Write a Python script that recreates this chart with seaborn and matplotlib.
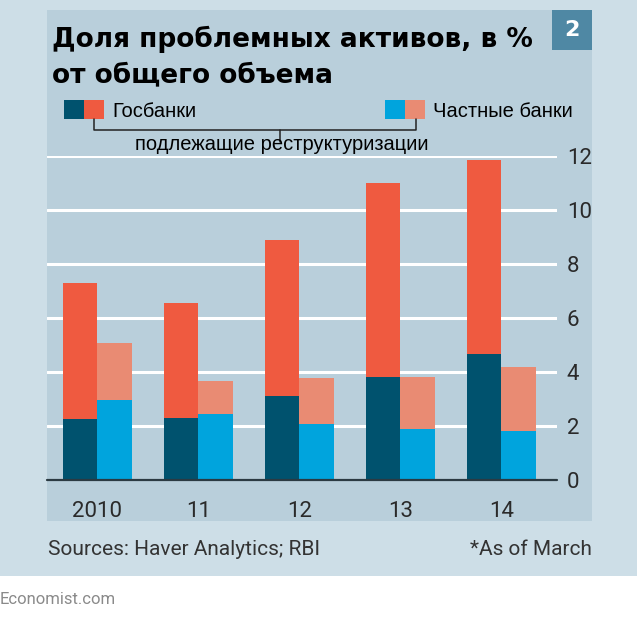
import numpy as np
import pandas as pd
import seaborn as sns
import matplotlib.pyplot as plt
from matplotlib.patches import Rectangle
from matplotlib.lines import Line2D

# data, % of total loans
years = ["2010", "11", "12", "13", "14"]
banks = ["Госбанки", "Частные банки"]
state_bad = [2.25, 2.28, 3.12, 3.80, 4.67]
state_restr = [5.03, 4.26, 5.77, 7.21, 7.18]
private_bad = [2.96, 2.44, 2.07, 1.88, 1.83]
private_restr = [2.13, 1.23, 1.70, 1.95, 2.37]
yticks = [0, 2, 4, 6, 8, 10, 12]

dark, red = "#00526e", "#ef5a40"
blue, salmon = "#00a4dd", "#e98b73"
outer_bg, inner_bg = "#cddee7", "#b9cfdb"

df = pd.DataFrame({
    "year": years * 2,
    "bank": [banks[0]] * 5 + [banks[1]] * 5,
    "bad": state_bad + private_bad,
    "restr": state_restr + private_restr,
})
df["total"] = df["bad"] + df["restr"]

sns.set_style("white")
plt.rcParams["font.family"] = ["Roboto", "DejaVu Sans"]

W, H = 640, 617
fig = plt.figure(figsize=(6.4, 6.17), dpi=100, facecolor="white")


def px(x, y):
    return x / W, 1 - y / H


def box(x0, y0, x1, y1, color, z=-2):
    fig.add_artist(Rectangle(px(x0, y1), (x1 - x0) / W, (y1 - y0) / H,
                             transform=fig.transFigure, color=color, lw=0, zorder=z))


box(0, 0, 637, 576, outer_bg, -3)
box(47, 10, 592, 521, inner_bg, -2)
box(552, 10, 592, 50, "#4f88a4", 2)

ax = fig.add_axes([47 / W, 1 - 480 / H, 510 / W, 324 / H])
ax.patch.set_alpha(0)

sns.barplot(data=df, x="year", y="total", hue="bank", order=years, hue_order=banks,
            palette=[red, salmon], width=0.68, saturation=1, legend=False, ax=ax,
            zorder=2, linewidth=0)
sns.barplot(data=df, x="year", y="bad", hue="bank", order=years, hue_order=banks,
            palette=[dark, blue], width=0.68, saturation=1, legend=False, ax=ax,
            zorder=2, linewidth=0)

ax.set_xlim(-0.5, 4.55)
ax.set_ylim(0, 12)
ax.set_yticks(yticks)
ax.set_xlabel("")
ax.set_ylabel("")
for s in ax.spines.values():
    s.set_visible(False)
ax.yaxis.grid(True, color="white", lw=2.2)
ax.set_axisbelow(True)
ax.axhline(0, color="#2b3a42", lw=1.6, zorder=3, clip_on=False)
ax.yaxis.tick_right()
ax.tick_params(axis="y", length=0, pad=7, labelsize=16, labelcolor="#2a2a2a")
ax.tick_params(axis="x", length=0, pad=15, labelsize=16, labelcolor="#2a2a2a")

# title
title_font = ["DejaVu Sans"]
fig.text(*px(52, 47), "Доля проблемных активов, в %", fontsize=19, fontweight="bold",
         family=title_font, va="baseline", color="black")
fig.text(*px(52, 82), "от общего объема", fontsize=19, fontweight="bold",
         family=title_font, va="baseline", color="black")
fig.text(*px(572, 30), "2", fontsize=16, fontweight="bold", color="white",
         ha="center", va="center", family=["DejaVu Sans"])

# legend
box(64, 100, 84, 119, dark, 2)
box(84, 100, 104, 119, red, 2)
box(385, 100, 405, 119, blue, 2)
box(405, 100, 425, 119, salmon, 2)
leg_font = ["Liberation Sans", "DejaVu Sans"]
fig.text(*px(112, 117), "Госбанки", fontsize=14.5, family=leg_font, va="baseline",
         color="black")
fig.text(*px(433, 117), "Частные банки", fontsize=14.5, family=leg_font, va="baseline",
         color="black")
xs = [94, 94, 416, 416]
ys = [119, 130, 130, 119]
fig.add_artist(Line2D([x / W for x in xs], [1 - y / H for y in ys],
                      transform=fig.transFigure, color="#222", lw=1.1))
fig.add_artist(Line2D([280 / W, 280 / W], [1 - 130 / H, 1 - 142 / H],
                      transform=fig.transFigure, color="#222", lw=1.1))
fig.text(*px(282, 150), "подлежащие реструктуризации", fontsize=14.5, family=leg_font,
         ha="center", va="baseline", color="black")

# footer
fig.text(*px(48, 555), "Sources: Haver Analytics; RBI", fontsize=15, color="#333",
         va="baseline")
fig.text(*px(592, 555), "*As of March", fontsize=15, color="#333", ha="right",
         va="baseline")
fig.text(*px(0, 604), "Economist.com", fontsize=12, color="#8a8a8a", va="baseline")

fig.savefig("out.png", dpi=100, facecolor="white")
